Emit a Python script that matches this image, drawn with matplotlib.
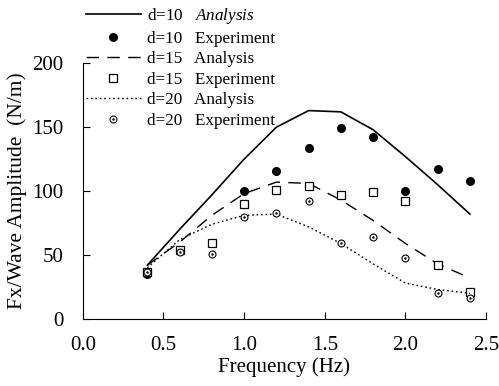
import matplotlib
matplotlib.use('Agg')
import matplotlib.pyplot as plt
from matplotlib.legend_handler import HandlerTuple

plt.rcParams['font.family'] = ['Liberation Serif', 'DejaVu Serif']
plt.rcParams['mathtext.fontset'] = 'custom'
plt.rcParams['mathtext.it'] = 'Liberation Serif:italic'
plt.rcParams['mathtext.rm'] = 'Liberation Serif'

freq = [0.4, 0.6, 0.8, 1.0, 1.2, 1.4, 1.6, 1.8, 2.0, 2.2, 2.4]

# analysis curves
ana_d10 = [42, 70, 97, 125, 150, 163, 162, 148, 127, 105, 82]
ana_d15 = [42, 60, 81, 98, 107, 106, 93, 77, 59, 43, 32]
ana_d20 = [40, 62, 74, 81, 82, 72, 59, 43, 28, 23, 20]

# experiment points
exp_f10 = [0.4, 1.0, 1.2, 1.4, 1.6, 1.8, 2.0, 2.2, 2.4]
exp_d10 = [35, 100, 116, 134, 149, 142, 100, 117, 108]
exp_d15 = [37, 54, 59, 90, 101, 104, 97, 99, 92, 42, 21]
exp_d20 = [37, 52, 51, 80, 83, 92, 59, 64, 48, 20, 16]

fig = plt.figure(figsize=(4.99, 3.86), dpi=100)
ax = fig.add_axes([0.166, 0.174, 0.808, 0.662])

l1, = ax.plot(freq, ana_d10, color='black', lw=1.2)
p1, = ax.plot(exp_f10, exp_d10, 'o', color='black', ms=5.5, ls='none')
l2, = ax.plot(freq, ana_d15, color='black', lw=1.0, dashes=(9, 6))
p2, = ax.plot(freq, exp_d15, 's', mfc='white', mec='black', mew=0.9, ms=5.5, ls='none')
l3, = ax.plot(freq, ana_d20, color='black', lw=1.0, dashes=(1.2, 2))
p3a, = ax.plot(freq, exp_d20, 'o', mfc='white', mec='black', mew=0.8, ms=5, ls='none')
p3b, = ax.plot(freq, exp_d20, '.', color='black', ms=1.5, ls='none')

ax.set_xlim(0, 2.5)
ax.set_ylim(0, 200)
ax.set_xticks([0.0, 0.5, 1.0, 1.5, 2.0, 2.5])
ax.set_xticklabels(['0.0', '0.5', '1.0', '1.5', '2.0', '2.5'])
ax.set_yticks([0, 50, 100, 150, 200])
ax.spines['top'].set_visible(False)
ax.spines['right'].set_visible(False)
ax.tick_params(direction='in', length=5, labelsize=15)
ax.tick_params(axis='x', pad=12)
ax.tick_params(axis='y', pad=14)
ax.set_xlabel('Frequency (Hz)', fontsize=15, labelpad=2)
ax.set_ylabel('Fx/Wave Amplitude  (N/m)', fontsize=15.5, labelpad=4)

labels = ['d=10   $\\mathit{Analysis}$', 'd=10   Experiment',
          'd=15   Analysis', 'd=15   Experiment',
          'd=20   Analysis', 'd=20   Experiment']
fig.legend([l1, p1, l2, p2, l3, (p3a, p3b)], labels,
           handler_map={tuple: HandlerTuple(ndivide=1, pad=0)},
           numpoints=1,
           loc='upper left', bbox_to_anchor=(86 / 499, 1 - 6 / 386),
           frameon=False, fontsize=12.3, handlelength=3.2, handletextpad=0.35,
           labelspacing=0.27, borderpad=0, borderaxespad=0)

fig.savefig('out.png', dpi=100)
